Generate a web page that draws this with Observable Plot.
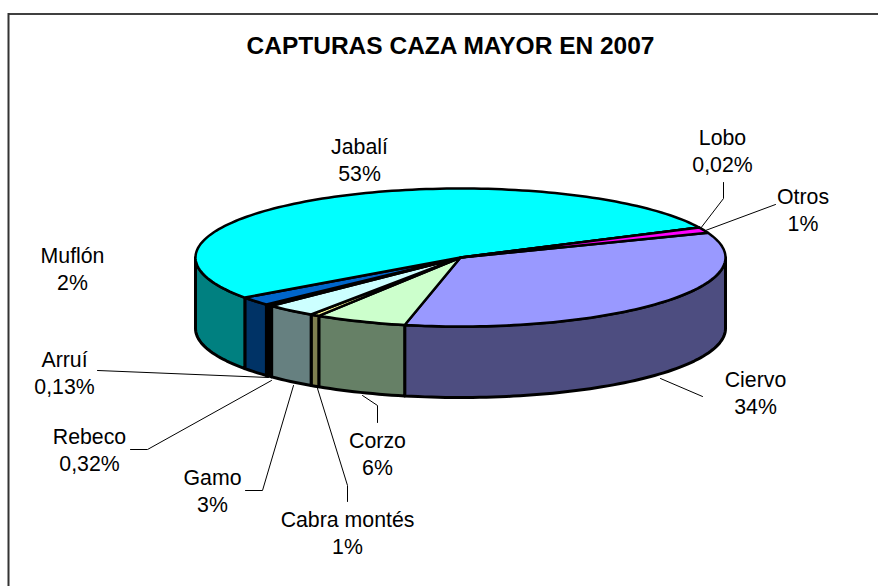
<!DOCTYPE html>
<html><head><meta charset="utf-8">
<script src="https://cdn.jsdelivr.net/npm/d3@7"></script>
<script src="https://cdn.jsdelivr.net/npm/@observablehq/plot@0.6"></script>
<style>html,body{margin:0;padding:0;background:#fff}svg{display:block}</style>
</head><body><div id="chart"></div>
<script>
// Data (clockwise from the Ciervo slice)
const especies = ["Ciervo","Corzo","Cabra montés","Gamo","Rebeco","Arruí","Muflón","Jabalí","Lobo","Otros"];
const porcentajes = [34.2,5.6,0.55,3.1,0.32,0.13,2.05,52.7,0.02,1.3];
const etiquetas = ["34%","6%","1%","3%","0,32%","0,13%","2%","53%","0,02%","1%"];
const titulo = "CAPTURAS CAZA MAYOR EN 2007";

// Styling
const colorTapa = ["#9999FF","#CCFFCC","#FFFF99","#CCFFFF","#000000","#000000","#0066CC","#00FFFF","#000000","#FF00FF"];
const colorLado = ["#4D4D80","#668066","#808050","#668080","#000000","#000000","#003366","#008080","#000000","#800080"];

// Layout in chart pixels
const W = 878, H = 586;
const cx = 460, cy = 257, rx = 265, ry = 69, depth = 71, startDeg = -21;
const labelPos = {
  "Ciervo":[755,391.5], "Corzo":[377,452.5], "Cabra montés":[347,531], "Gamo":[212,489],
  "Rebeco":[89,448], "Arruí":[64,371], "Muflón":[72,267.5], "Jabalí":[359,158.5],
  "Lobo":[722,149], "Otros":[802.5,208]
};
const leaders = {
  "Ciervo":[[660,378],[702,396]],
  "Corzo":[[362,395],[377,405],[377,422]],
  "Cabra montés":[[317,388],[347,485],[347,501]],
  "Gamo":[[293,385],[262,490],[245,490]],
  "Rebeco":[[271,380],[147,449],[130,449]],
  "Arruí":[[268,377],[97,370]],
  "Lobo":[[700,228],[723,198],[723,182]],
  "Otros":[[705,230],[775,204]]
};

const total = d3.sum(porcentajes);
let acc = startDeg;
const slices = especies.map((name,i)=>{
  const a0 = acc; acc += porcentajes[i]/total*360;
  return {name,i,a0,a1:acc,label:etiquetas[i]};
});
const rim = (deg,dy=0)=>{const t=deg*Math.PI/180;return [cx+rx*Math.cos(t),cy+ry*Math.sin(t)+dy];};
const arc = (a0,a1,dy=0)=>{const n=Math.max(2,Math.ceil((a1-a0)/1.5));return d3.range(n+1).map(k=>rim(a0+(a1-a0)*k/n,dy));};

const poly = (pts,fill,strokeWidth)=>Plot.line(pts,{x:d=>d[0],y:d=>d[1],fill,stroke:"#000",strokeWidth,strokeLinejoin:"round",curve:"linear"});

// Visible side wall: the front half of the disc (0°..180°)
const sideMarks = slices.flatMap(s=>{
  const lo = Math.max(s.a0,0), hi = Math.min(s.a1,180);
  if (hi<=lo) return [];
  const top = arc(lo,hi), bottom = arc(lo,hi,depth).reverse();
  return [poly([...top,...bottom,top[0]],colorLado[s.i],3)];
});
const topMarks = slices.map(s=>poly([[cx,cy],...arc(s.a0,s.a1),[cx,cy]],colorTapa[s.i],2.5));

const leaderMarks = Object.entries(leaders).map(([k,pts])=>
  Plot.line(pts,{x:d=>d[0],y:d=>d[1],stroke:"#000",strokeWidth:1,curve:"linear"}));

const labels = slices.map(s=>({t:`${s.name}\n${s.label}`,x:labelPos[s.name][0],y:labelPos[s.name][1]}));

const chart = Plot.plot({
  width:W,height:H,margin:0,
  x:{domain:[0,W],range:[0,W],axis:null},
  y:{domain:[0,H],range:[0,H],axis:null},
  style:{background:"#fff",fontFamily:"'Liberation Sans',Arial,sans-serif"},
  marks:[
    Plot.ruleY([13.5],{x1:8,x2:W,stroke:"#000",strokeWidth:1.5}),
    Plot.ruleX([8],{y1:13,y2:H,stroke:"#333",strokeWidth:2}),
    ...leaderMarks,
    ...sideMarks,
    ...topMarks,
    Plot.text([titulo],{x:[450],y:[46],text:d=>d,fontSize:24.5,fontWeight:"bold",fill:"#000"}),
    Plot.text(labels,{x:"x",y:"y",text:"t",fontSize:21.3,lineHeight:1.27,fill:"#000"})
  ]
});
document.getElementById("chart").append(chart);
</script></body></html>
